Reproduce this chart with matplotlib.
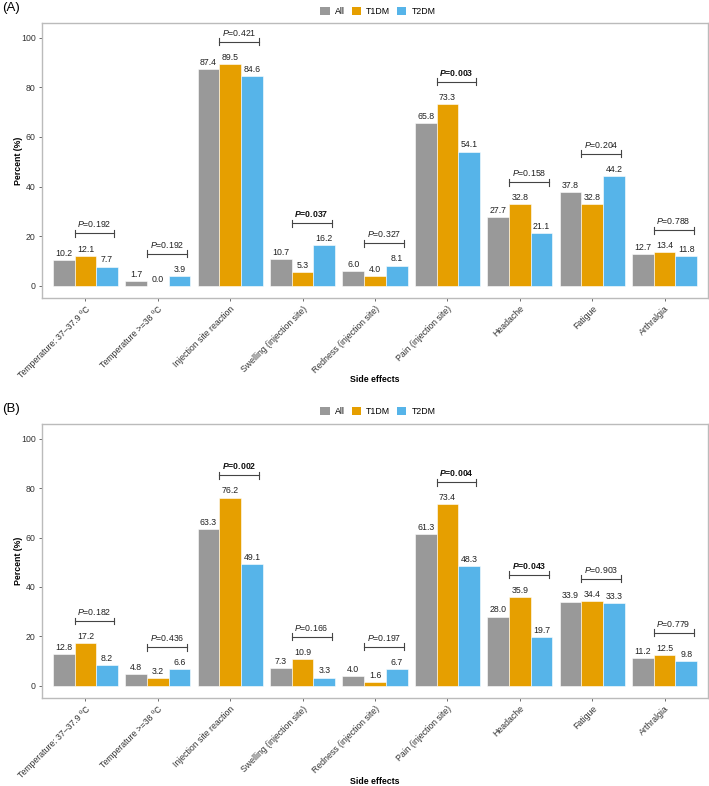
import matplotlib
matplotlib.use("Agg")
import matplotlib.pyplot as plt
from matplotlib.patches import Patch
import numpy as np

plt.rcParams['font.family'] = ['Liberation Sans', 'DejaVu Sans']
plt.rcParams['mathtext.fontset'] = 'custom'
plt.rcParams['mathtext.rm'] = 'Liberation Sans'
plt.rcParams['mathtext.it'] = 'Liberation Sans:italic'
plt.rcParams['mathtext.bf'] = 'Liberation Sans:bold'
plt.rcParams['mathtext.bfit'] = 'Liberation Sans:italic:bold'

categories = ["Temperature: 37–37.9 ºC", "Temperature >=38 ºC", "Injection site reaction",
              "Swelling (injection site)", "Redness (injection site)", "Pain (injection site)",
              "Headache", "Fatigue", "Arthralgia"]
groups = ["All", "T1DM", "T2DM"]

a_all = [10.2, 1.7, 87.4, 10.7, 6.0, 65.8, 27.7, 37.8, 12.7]
a_t1 = [12.1, 0.0, 89.5, 5.3, 4.0, 73.3, 32.8, 32.8, 13.4]
a_t2 = [7.7, 3.9, 84.6, 16.2, 8.1, 54.1, 21.1, 44.2, 11.8]
a_p = ["0.192", "0.192", "0.421", "0.037", "0.327", "0.003", "0.158", "0.204", "0.788"]
a_sig = [False, False, False, True, False, True, False, False, False]

b_all = [12.8, 4.8, 63.3, 7.3, 4.0, 61.3, 28.0, 33.9, 11.2]
b_t1 = [17.2, 3.2, 76.2, 10.9, 1.6, 73.4, 35.9, 34.4, 12.5]
b_t2 = [8.2, 6.6, 49.1, 3.3, 6.7, 48.3, 19.7, 33.3, 9.8]
b_p = ["0.182", "0.436", "0.002", "0.166", "0.197", "0.004", "0.043", "0.903", "0.779"]
b_sig = [False, False, True, False, False, True, True, False, False]

colors = ["#999999", "#E69F00", "#56B4E9"]

W, H = 709, 786
FS = 6.3
fig = plt.figure(figsize=(W / 100, H / 100), dpi=100)


def panel(top_px, bot_px, series, pvals, sig, tag, legend_y, xlabel_y):
    ax = fig.add_axes([42 / W, 1 - bot_px / H, (708 - 42) / W, (bot_px - top_px) / H])
    x = np.arange(1, len(categories) + 1)
    bw = 0.3
    offs = [-bw, 0, bw]
    for vals, c, o in zip(series, colors, offs):
        ax.bar(x + o, vals, width=bw, color=c, edgecolor='white', linewidth=0.4)
        for xi, v in zip(x, vals):
            ax.annotate(f"{v:.1f}", (xi + o, v), xytext=(0, 1.5), textcoords='offset points',
                        ha='center', va='bottom', fontsize=FS, color='#222222')
    for i, (p, s) in enumerate(zip(pvals, sig)):
        top = max(series[0][i], series[1][i], series[2][i]) + 9
        x0, x1 = x[i] - 0.15, x[i] + 0.4
        ax.plot([x0, x1], [top, top], color='#444444', lw=0.8)
        for xe in (x0, x1):
            ax.plot([xe, xe], [top - 1.4, top + 1.4], color='#444444', lw=0.8)
        if s:
            lab = r"$\mathbfit{P}$=" + p
            ax.text((x0 + x1) / 2, top + 1.6, lab, ha='center', va='bottom', fontsize=FS,
                    fontweight='bold', color='#111111')
        else:
            lab = r"$\mathit{P}$=" + p
            ax.text((x0 + x1) / 2, top + 1.6, lab, ha='center', va='bottom', fontsize=FS,
                    color='#222222')
    ax.set_xlim(0.4, len(categories) + 0.6)
    ax.set_ylim(-5, 106)
    ax.set_yticks([0, 20, 40, 60, 80, 100])
    ax.set_xticks(x)
    ax.set_xticklabels(categories, rotation=45, ha='right', rotation_mode='anchor',
                       fontsize=FS, color='#333333')
    ax.tick_params(axis='y', labelsize=FS, labelcolor='#333333', length=2.5, width=0.6,
                   color='#555555', pad=2)
    ax.tick_params(axis='x', length=2.5, width=0.6, color='#555555', pad=2)
    for sp in ax.spines.values():
        sp.set_color('#BBBBBB')
        sp.set_linewidth(1.0)
    fig.text(2 / W, 1 - (top_px - 15) / H, tag, fontsize=9.5, ha='left', va='center')
    fig.text(18.5 / W, 1 - ((top_px + bot_px) / 2) / H, "Percent (%)", rotation=90,
             fontsize=FS, fontweight='bold', ha='center', va='center')
    fig.text(375 / W, 1 - xlabel_y / H, "Side effects", fontsize=FS, fontweight='bold',
             ha='center', va='center')
    handles = [Patch(facecolor=c, edgecolor='none', label=g) for c, g in zip(colors, groups)]
    fig.legend(handles=handles, loc='center', bbox_to_anchor=(378 / W, 1 - legend_y / H),
               ncol=3, frameon=False, fontsize=FS, handlelength=1.05, handleheight=1.05,
               handletextpad=0.6, columnspacing=0.8, borderpad=0)
    return ax


panel(23, 298, [a_all, a_t1, a_t2], a_p, a_sig, "(A)", 11.7, 380)
panel(424, 698, [b_all, b_t1, b_t2], b_p, b_sig, "(B)", 411.7, 781)

fig.savefig("out.png", dpi=100)
